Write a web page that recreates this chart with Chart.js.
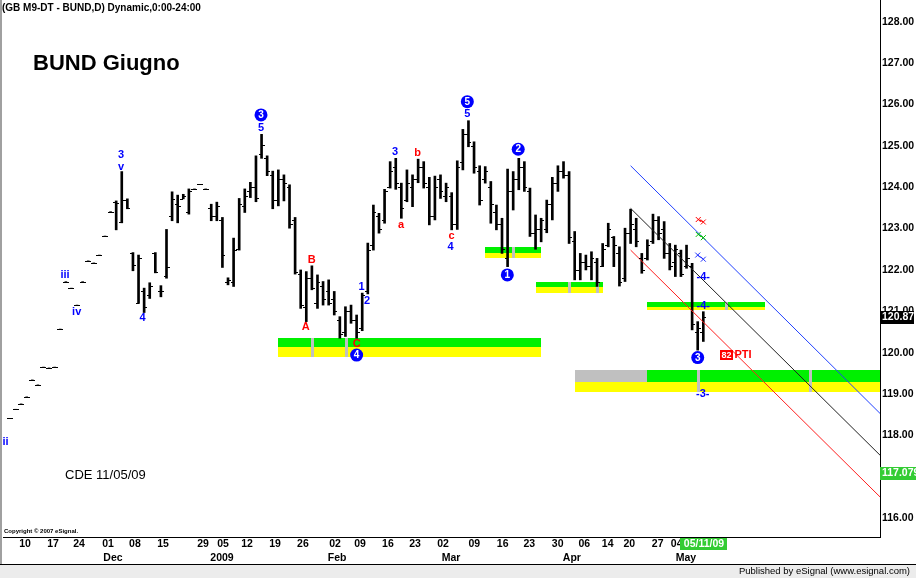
<!DOCTYPE html>
<html>
<head>
<meta charset="utf-8">
<title>BUND Giugno</title>
<script src="https://cdn.jsdelivr.net/npm/chart.js@4.4.1/dist/chart.umd.min.js"></script>
<style>
  html, body { margin: 0; padding: 0; background: #fff; }
  #wrap { width: 916px; height: 578px; }
</style>
</head>
<body>
<div id="wrap"><canvas id="chart" width="916" height="578"></canvas></div>
<script>
// daily bars of the June Bund future, the first one sits at bar number -3
const FIRST_BAR = -3;
const opens = [
  118.41, 118.63, 118.76, 118.93, 119.34, 119.22, 119.65, 119.63, 119.65, 120.57,
  121.72, 121.56, 121.15, 121.72, 122.22, 122.17, 122.36, 122.82, 123.41, 123.65,
  123.16, 123.70, 122.40, 121.20, 121.50, 121.40, 122.40, 121.50, 121.85, 123.30,
  123.60, 123.72, 123.40, 123.96, 124.07, 123.96, 123.50, 123.30, 123.20, 121.70,
  121.70, 122.50, 123.55, 123.90, 124.00, 124.80, 124.70, 124.30, 123.70, 124.20,
  124.00, 123.20, 121.90, 121.10, 121.80, 121.19, 121.60, 121.48, 121.30, 120.80,
  120.50, 121.00, 120.80, 120.60, 121.50, 122.60, 123.30, 123.20, 124.00, 124.50,
  124.00, 123.70, 124.00, 124.20, 124.50, 124.00, 123.30, 124.20, 123.80, 123.80,
  123.10, 124.60, 125.30, 125.00, 124.40, 124.20, 124.00, 123.40, 123.10, 122.30,
  123.90, 124.20, 124.50, 123.90, 122.90, 123.00, 123.00, 123.60, 124.10, 124.40,
  124.30, 122.70, 122.00, 122.20, 122.10, 122.20, 122.10, 122.60, 122.80, 122.40,
  121.80, 122.90, 123.00, 122.30, 122.30, 122.70, 123.20, 123.00, 122.40, 122.20,
  122.40, 122.10, 122.10, 120.50, 120.50
];
const highs = [
  118.41, 118.63, 118.76, 118.93, 119.34, 119.22, 119.65, 119.63, 119.65, 120.57,
  121.72, 121.56, 121.15, 121.72, 122.22, 122.17, 122.36, 122.82, 123.41, 123.67,
  124.38, 123.72, 122.42, 122.36, 121.56, 121.69, 122.42, 121.62, 122.98, 123.89,
  123.81, 123.83, 123.96, 123.96, 124.07, 123.96, 123.59, 123.64, 123.27, 121.81,
  122.77, 123.73, 123.96, 124.12, 124.76, 125.28, 124.76, 124.39, 124.42, 124.30,
  124.06, 123.27, 122.00, 121.96, 122.10, 121.88, 121.72, 121.76, 121.48, 120.87,
  121.11, 121.15, 120.91, 121.44, 122.65, 123.57, 123.37, 123.95, 124.62, 124.70,
  124.10, 124.42, 124.30, 124.68, 124.62, 124.24, 124.27, 124.30, 124.10, 123.87,
  124.64, 125.40, 125.61, 125.10, 124.52, 124.50, 124.14, 123.57, 123.25, 124.44,
  124.38, 124.70, 124.62, 123.98, 123.33, 123.25, 123.69, 124.24, 124.52, 124.62,
  124.38, 122.93, 122.40, 122.36, 122.44, 122.28, 122.64, 123.13, 122.81, 122.56,
  123.01, 123.47, 123.25, 122.40, 122.73, 123.35, 123.29, 123.17, 122.64, 122.60,
  122.48, 122.60, 122.16, 120.75, 120.99
];
const lows = [
  118.41, 118.63, 118.76, 118.93, 119.34, 119.22, 119.65, 119.63, 119.65, 120.57,
  121.72, 121.56, 121.15, 121.72, 122.22, 122.17, 122.36, 122.82, 123.41, 122.97,
  123.14, 123.48, 121.98, 121.19, 120.97, 121.31, 121.93, 121.35, 121.80, 123.19,
  123.14, 123.72, 123.35, 123.96, 124.07, 123.96, 123.19, 123.19, 122.06, 121.64,
  121.60, 122.48, 123.39, 123.75, 123.65, 124.70, 124.28, 123.48, 123.55, 123.67,
  123.01, 121.90, 121.07, 120.75, 121.52, 121.07, 121.15, 121.15, 120.91, 120.35,
  120.39, 120.71, 120.35, 120.53, 121.42, 122.48, 122.89, 123.13, 123.98, 123.95,
  123.25, 123.65, 123.53, 124.11, 123.98, 123.09, 123.21, 123.73, 123.65, 122.97,
  122.98, 124.42, 124.98, 124.34, 123.57, 124.10, 123.13, 122.97, 122.40, 122.08,
  123.45, 123.94, 123.90, 122.81, 122.50, 122.68, 122.90, 123.21, 123.90, 124.22,
  122.64, 121.76, 121.76, 122.00, 121.76, 121.60, 122.08, 122.56, 122.08, 121.61,
  121.72, 122.64, 122.56, 121.92, 122.24, 122.64, 122.73, 122.28, 122.00, 121.84,
  121.84, 122.04, 120.55, 120.06, 120.27
];
const closes = [
  118.41, 118.63, 118.76, 118.93, 119.34, 119.22, 119.65, 119.63, 119.65, 120.57,
  121.72, 121.56, 121.15, 121.72, 122.22, 122.17, 122.36, 122.82, 123.41, 123.62,
  123.70, 123.50, 122.12, 122.30, 121.10, 121.62, 121.95, 121.48, 122.06, 123.71,
  123.55, 123.80, 123.90, 123.96, 124.07, 123.96, 123.30, 123.55, 122.36, 121.75,
  122.48, 123.60, 123.80, 124.00, 123.75, 125.02, 124.40, 123.70, 124.20, 124.10,
  123.10, 121.95, 121.15, 121.80, 121.56, 121.70, 121.30, 121.20, 121.00, 120.45,
  121.00, 120.80, 120.50, 121.39, 122.48, 123.40, 123.00, 123.90, 124.40, 124.10,
  123.50, 124.10, 124.20, 124.50, 124.10, 123.30, 124.00, 123.90, 124.00, 123.10,
  124.50, 125.30, 125.10, 124.50, 123.70, 124.40, 123.60, 123.10, 122.50, 123.90,
  124.20, 124.50, 124.00, 122.90, 123.00, 123.20, 123.60, 124.10, 124.40, 124.30,
  122.80, 122.00, 122.20, 122.10, 122.30, 121.70, 122.50, 123.00, 122.60, 121.70,
  122.90, 123.10, 122.70, 122.00, 122.60, 123.20, 122.90, 122.40, 122.10, 122.50,
  121.90, 122.30, 120.70, 120.60, 120.87
];

// x axis: bar numbers of the day ticks and of the month line under them
const dayTickBars = [-0.3, 4.7, 9.35, 14.54, 19.36, 24.37, 31.53, 35.1, 39.4, 44.4, 49.4, 55.13, 59.6,
  64.6, 69.44, 74.45, 80.04, 85.12, 89.88, 94.96, 99.71, 103.9, 107.76, 112.84, 116.24];
const dayTickLabels = ['10', '17', '24', '01', '08', '15', '29', '05', '12', '19', '26', '02', '09',
  '16', '23', '02', '09', '16', '23', '30', '06', '14', '20', '27', '04'];
const monthTickBars = [15.43, 34.92, 55.5, 75.88, 97.5, 117.9];
const monthTickLabels = ['Dec', '2009', 'Feb', 'Mar', 'Apr', 'May'];
const priceTicks = [116, 117, 118, 119, 120, 121, 122, 123, 124, 125, 126, 127, 128];

// regression channel, drawn from bar 108 to the right edge
const channelBars = [108, 152.6];
const channelBlue = [124.52, 118.53];
const channelBlack = [123.49, 117.52];
const channelRed = [122.48, 116.51];

// support zones: green band over yellow band (last one starts grey)
const zoneStart = [45.0, 81.96, 91.0, 111.0, 98.0];
const zoneGreenFrom = [45.0, 81.96, 91.0, 111.0, 111.0];
const zoneEnd = [91.96, 91.96, 103.1, 132.0, 152.6];
const zoneTop = [120.35, 122.55, 121.72, 121.22, 119.58];
const zoneMid = [120.13, 122.42, 121.58, 121.11, 119.30];
const zoneBottom = [119.90, 122.28, 121.44, 121.03, 119.04];
const markerBars = [50.97, 57.05, 87.0, 97.03, 102.0, 125.05, 120.0, 140.07];
const markerZones = [0, 0, 1, 2, 2, 3, 4, 4];

// Elliott wave counts
const blueText = ['ii', 'iii', 'iv', '3', 'v', '4', '5', '1', '2', '3', '4', '5', '-4-', '-4-', '-3-'];
const blueBars = [-3.8, 6.85, 8.94, 16.86, 16.86, 20.74, 41.9, 59.9, 60.86, 65.86, 75.82, 78.8, 121.0, 121.0, 120.9];
const bluePrices = [117.85, 121.88, 120.99, 124.78, 124.50, 120.83, 125.43, 121.60, 121.26, 124.86, 122.56, 125.77, 121.83, 121.14, 119.01];
const redText = ['A', 'B', 'C', 'a', 'b', 'c'];
const redBars = [49.9, 50.97, 59.0, 66.93, 69.9, 76.0];
const redPrices = [120.63, 122.24, 120.22, 123.09, 124.82, 122.81];
const circleText = ['3', '4', '5', '1', '2', '3'];
const circleBars = [41.9, 59.0, 78.8, 85.95, 87.9, 120.0];
const circlePrices = [125.75, 119.94, 126.07, 121.88, 124.92, 119.88];
const crossColors = ['#ff0000', '#00c000', '#2030ff'];
const crossBars = [[120.1, 121.0], [120.1, 121.0], [120.0, 121.0]];
const crossPrices = [[123.22, 123.16], [122.86, 122.78], [122.36, 122.26]];

const lastBar = 121;
const lastPrice = 120.87;
const channelPrice = 117.079;
const FONT = "'Liberation Sans', Arial, sans-serif";

const rangeData = highs.map((h, i) => ({ x: FIRST_BAR + i, y: [lows[i], h] }));
const lineData = (vals) => channelBars.map((b, i) => ({ x: b, y: vals[i] }));

const zonesPlugin = {
    id: 'zones',
    beforeDatasetsDraw(chart) {
        const { ctx, scales: { x, y } } = chart;
        ctx.save();
        zoneStart.forEach((s, i) => {
            const x0 = Math.round(x.getPixelForValue(s));
            const xg = Math.round(x.getPixelForValue(zoneGreenFrom[i]));
            const x1 = Math.round(x.getPixelForValue(zoneEnd[i]));
            const yt = Math.round(y.getPixelForValue(zoneTop[i]));
            const ym = Math.round(y.getPixelForValue(zoneMid[i]));
            const yb = Math.round(y.getPixelForValue(zoneBottom[i]));
            if (xg > x0) {
                ctx.fillStyle = '#c0c0c0';
                ctx.fillRect(x0, yt, xg - x0, ym - yt);
            }
            ctx.fillStyle = '#00f000';
            ctx.fillRect(xg, yt, x1 - xg, ym - yt);
            ctx.fillStyle = '#ffff00';
            ctx.fillRect(x0, ym, x1 - x0, yb - ym);
        });
        ctx.fillStyle = '#c0c0c0';
        markerBars.forEach((b, i) => {
            const z = markerZones[i];
            const cx = Math.round(x.getPixelForValue(b));
            const yt = Math.round(y.getPixelForValue(zoneTop[z]));
            const yb = Math.round(y.getPixelForValue(zoneBottom[z]));
            ctx.fillRect(cx - 1, yt, 3, yb - yt);
        });
        ctx.restore();
    }
};

const ohlcTicks = {
    id: 'ohlcTicks',
    afterDatasetsDraw(chart) {
        const { ctx, chartArea: a, scales: { x, y } } = chart;
        ctx.save();
        ctx.beginPath();
        ctx.rect(a.left, a.top, a.width, a.height);
        ctx.clip();
        ctx.fillStyle = '#000';
        opens.forEach((o, i) => {
            const cx = Math.round(x.getPixelForValue(FIRST_BAR + i));
            ctx.fillRect(cx - 3, Math.round(y.getPixelForValue(o)), 3, 1);
            ctx.fillRect(cx, Math.round(y.getPixelForValue(closes[i])), 3, 1);
        });
        ctx.restore();
    }
};

const wavePlugin = {
    id: 'waves',
    afterDatasetsDraw(chart) {
        const { ctx, scales: { x, y } } = chart;
        ctx.save();
        ctx.textAlign = 'center';
        ctx.textBaseline = 'middle';
        ctx.font = `bold 11px ${FONT}`;
        ctx.fillStyle = '#0000ff';
        blueText.forEach((t, i) => ctx.fillText(t, x.getPixelForValue(blueBars[i]), y.getPixelForValue(bluePrices[i])));
        ctx.fillStyle = '#ff0000';
        redText.forEach((t, i) => ctx.fillText(t, x.getPixelForValue(redBars[i]), y.getPixelForValue(redPrices[i])));

        ctx.font = `bold 10px ${FONT}`;
        circleText.forEach((t, i) => {
            const cx = x.getPixelForValue(circleBars[i]);
            const cy = y.getPixelForValue(circlePrices[i]);
            ctx.fillStyle = '#0000ff';
            ctx.beginPath();
            ctx.arc(cx, cy, 6.5, 0, Math.PI * 2);
            ctx.fill();
            ctx.fillStyle = '#fff';
            ctx.fillText(t, cx, cy + 0.5);
        });

        // little x marks of the target projections
        ctx.lineWidth = 1;
        crossColors.forEach((c, i) => {
            ctx.strokeStyle = c;
            const pts = crossBars[i].map((b, j) => [x.getPixelForValue(b), y.getPixelForValue(crossPrices[i][j])]);
            ctx.beginPath();
            pts.forEach(([cx, cy]) => {
                ctx.moveTo(cx - 2.5, cy - 2.5); ctx.lineTo(cx + 2.5, cy + 2.5);
                ctx.moveTo(cx - 2.5, cy + 2.5); ctx.lineTo(cx + 2.5, cy - 2.5);
            });
            ctx.moveTo(pts[0][0], pts[0][1]);
            ctx.lineTo(pts[1][0], pts[1][1]);
            ctx.stroke();
        });

        // PTI box
        const bx = x.getPixelForValue(125.05);
        const by = y.getPixelForValue(119.94);
        ctx.fillStyle = '#ff0000';
        ctx.fillRect(Math.round(bx) - 6, Math.round(by) - 5, 13, 10);
        ctx.fillStyle = '#fff';
        ctx.font = `bold 9px ${FONT}`;
        ctx.fillText('82', bx + 0.5, by + 0.5);
        ctx.fillStyle = '#ff0000';
        ctx.font = `bold 11px ${FONT}`;
        ctx.fillText('PTI', x.getPixelForValue(128.1), by);
        ctx.restore();
    }
};

const framePlugin = {
    id: 'frame',
    afterDraw(chart) {
        const { ctx, scales: { x, y } } = chart;
        ctx.save();
        ctx.fillStyle = '#a0a0a0';
        ctx.fillRect(0, 0, 2, 564);
        ctx.fillStyle = '#000';
        ctx.fillRect(0, 564, 916, 1);
        ctx.fillStyle = '#ececec';
        ctx.fillRect(0, 565, 916, 13);

        ctx.fillStyle = '#000';
        ctx.textBaseline = 'middle';
        ctx.textAlign = 'right';
        ctx.font = `9.5px ${FONT}`;
        ctx.fillText('Published by eSignal (www.esignal.com)', 910, 571.5);

        ctx.textAlign = 'left';
        ctx.font = `bold 10px ${FONT}`;
        ctx.fillText('(GB M9-DT - BUND,D) Dynamic,0:00-24:00', 2, 8);
        ctx.font = `bold 22px ${FONT}`;
        ctx.fillText('BUND Giugno', 33, 64);
        ctx.font = `13px ${FONT}`;
        ctx.fillText('CDE 11/05/09', 65, 475.5);
        ctx.font = `bold 6px ${FONT}`;
        ctx.fillText('Copyright \u00a9 2007 eSignal.', 4, 531);

        // last price and channel value on the price axis
        ctx.font = `bold 10.5px ${FONT}`;
        let py = Math.round(y.getPixelForValue(lastPrice));
        ctx.fillStyle = '#000';
        ctx.fillRect(880, py - 6, 34, 13);
        ctx.fillStyle = '#fff';
        ctx.fillText(lastPrice.toFixed(2), 882, py + 0.5);
        py = Math.round(y.getPixelForValue(channelPrice));
        ctx.fillStyle = '#33cc33';
        ctx.fillRect(880, py - 6, 36, 13);
        ctx.fillStyle = '#fff';
        ctx.fillText(channelPrice.toFixed(3), 882, py + 0.5);

        // date of the last bar on the time axis
        const dx = Math.round(x.getPixelForValue(lastBar));
        ctx.fillStyle = '#33cc33';
        ctx.fillRect(dx - 23, 538, 47, 12);
        ctx.fillStyle = '#fff';
        ctx.textAlign = 'center';
        ctx.fillText('05/11/09', dx + 1, 544.5);
        ctx.restore();
    }
};

const tickFont = { family: FONT, size: 10.5, weight: 'bold' };
const noSidePad = (s) => { s.paddingLeft = 0; s.paddingRight = 0; };

new Chart(document.getElementById('chart'), {
    type: 'bar',
    data: {
        datasets: [
            { type: 'bar', data: rangeData, backgroundColor: '#000', barThickness: 2, order: 2 },
            { type: 'line', data: lineData(channelBlue), borderColor: '#2040ff', borderWidth: 1, pointRadius: 0, order: 1 },
            { type: 'line', data: lineData(channelBlack), borderColor: '#202020', borderWidth: 1, pointRadius: 0, order: 1 },
            { type: 'line', data: lineData(channelRed), borderColor: '#ff2020', borderWidth: 1, pointRadius: 0, order: 1 }
        ]
    },
    options: {
        responsive: false,
        animation: false,
        devicePixelRatio: 1,
        events: [],
        layout: { padding: { left: 3, top: 0, right: 0, bottom: 14 } },
        plugins: { legend: { display: false }, tooltip: { enabled: false } },
        scales: {
            x: {
                type: 'linear', position: 'bottom', min: -4.24, max: 152.6, offset: false, weight: 0,
                grid: { display: false, drawTicks: false },
                border: { display: true, color: '#000', width: 1 },
                afterBuildTicks: (s) => { s.ticks = dayTickBars.map(v => ({ value: v })); },
                afterFit: (s) => { s.height = 13; noSidePad(s); },
                ticks: { autoSkip: false, maxRotation: 0, padding: 1, color: '#000', font: tickFont,
                    callback: (v, i) => dayTickLabels[i] }
            },
            xm: {
                type: 'linear', position: 'bottom', min: -4.24, max: 152.6, offset: false, weight: 1,
                grid: { display: false, drawTicks: false },
                border: { display: false },
                afterBuildTicks: (s) => { s.ticks = monthTickBars.map(v => ({ value: v })); },
                afterFit: (s) => { s.height = 14; noSidePad(s); },
                ticks: { autoSkip: false, maxRotation: 0, padding: 1.5, color: '#000', font: tickFont,
                    callback: (v, i) => monthTickLabels[i] }
            },
            y: {
                type: 'linear', position: 'right', min: 115.54, max: 128.53,
                grid: { display: false, drawTicks: false },
                border: { display: true, color: '#000', width: 1 },
                afterBuildTicks: (s) => { s.ticks = priceTicks.map(v => ({ value: v })); },
                afterFit: (s) => { s.width = 36; s.paddingTop = 0; s.paddingBottom = 0; },
                ticks: { padding: 2, color: '#000', font: tickFont, callback: (v) => v.toFixed(2) }
            }
        }
    },
    plugins: [zonesPlugin, ohlcTicks, wavePlugin, framePlugin]
});
</script>
</body>
</html>
